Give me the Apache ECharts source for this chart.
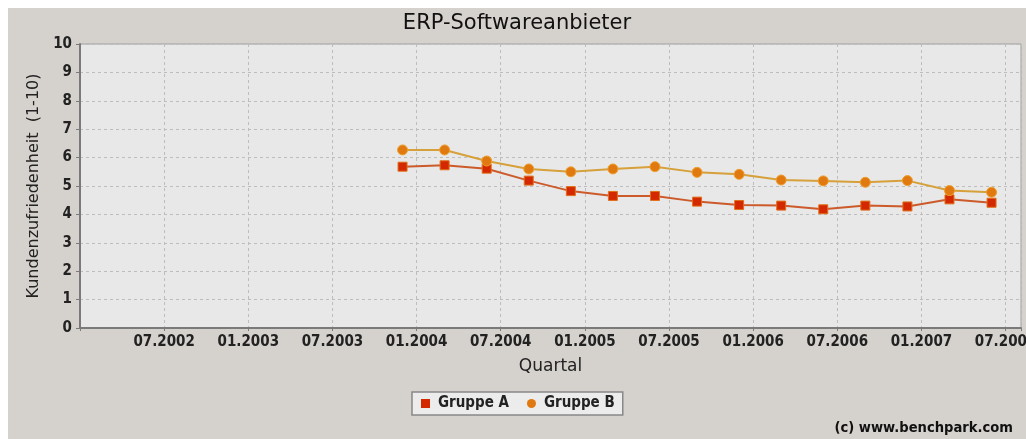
<!DOCTYPE html>
<html>
<head>
<meta charset="utf-8">
<script src="https://cdn.jsdelivr.net/npm/echarts@6/dist/echarts.min.js"></script>
<style>
  html, body { margin: 0; padding: 0; background: #ffffff; }
  #chart { position: absolute; left: 8px; top: 8px; width: 1018px; height: 431px; }
</style>
</head>
<body>
<div id="chart"></div>
<script>
// ---- data ----
const quarters = ['2003-12','2004-03','2004-06','2004-09','2004-12','2005-03','2005-06','2005-09',
                  '2005-12','2006-03','2006-06','2006-09','2006-12','2007-03','2007-06'];
const gruppeA = [5.68, 5.73, 5.61, 5.19, 4.82, 4.65, 4.65, 4.45, 4.33, 4.31, 4.18, 4.31, 4.28, 4.53, 4.41];
const gruppeB = [6.27, 6.27, 5.88, 5.60, 5.50, 5.60, 5.68, 5.48, 5.41, 5.21, 5.18, 5.13, 5.19, 4.84, 4.78];
const seriesNames = ['Gruppe A', 'Gruppe B'];
const yTicks = [0, 1, 2, 3, 4, 5, 6, 7, 8, 9, 10];
// x axis: months counted from 01.2000
const BASE_YEAR = 2000;
const X_MIN = 24;      // 01.2002
const X_MAX = 91.1;    // early 08.2007
const X_STEP = 6;      // half-year ticks

function toMonth(s) {
  const [y, m] = s.split('-').map(Number);
  return (y - BASE_YEAR) * 12 + (m - 1);
}
function fmtMonth(v) {
  if (Math.abs(v % X_STEP) > 1e-6 || v <= X_MIN) return '';
  const y = BASE_YEAR + Math.floor(v / 12);
  const m = Math.round(v % 12) + 1;
  return (m < 10 ? '0' + m : '' + m) + '.' + y;
}

const dataA = quarters.map((q, i) => [toMonth(q), gruppeA[i]]);
const dataB = quarters.map((q, i) => [toMonth(q), gruppeB[i]]);

const chart = echarts.init(document.getElementById('chart'), null, { renderer: 'canvas' });
const tickFont = { fontFamily: 'DejaVu Sans Condensed', fontWeight: 'bold', fontSize: 15, color: '#222' };

chart.setOption({
  backgroundColor: '#d5d1cd',
  animation: false,
  title: {
    text: 'ERP-Softwareanbieter',
    left: 'center',
    top: 0,
    textStyle: { fontFamily: 'DejaVu Sans', fontWeight: 'normal', fontSize: 21, color: '#111' }
  },
  grid: {
    left: 72, top: 36, width: 941, height: 284,
    outerBoundsMode: 'none', containLabel: false,
    show: true, backgroundColor: '#e8e8e8', borderColor: '#a0a0a0', borderWidth: 1
  },
  legend: {
    data: [
      { name: seriesNames[0], icon: 'rect', itemStyle: { color: '#d42800', borderWidth: 0 } },
      { name: seriesNames[1], icon: 'circle', itemStyle: { color: '#e07a10', borderWidth: 0 } }
    ],
    left: 404, top: 384,
    orient: 'horizontal',
    itemWidth: 9, itemHeight: 9, itemGap: 18,
    padding: [4, 8, 4, 9],
    backgroundColor: '#ececec',
    borderColor: '#888888', borderWidth: 1.5, borderRadius: 0,
    textStyle: { fontFamily: 'DejaVu Sans Condensed', fontWeight: 'bold', fontSize: 15, color: '#222', padding: [0, 0, 0, 3] }
  },
  xAxis: {
    type: 'value',
    min: X_MIN, max: X_MAX, interval: X_STEP,
    name: 'Quartal', nameLocation: 'middle', nameGap: 30,
    nameTextStyle: { fontFamily: 'DejaVu Sans', fontSize: 17, color: '#222' },
    axisLine: { show: true, lineStyle: { color: '#7a7a7a', width: 2 } },
    axisTick: { show: true, length: 3, lineStyle: { color: '#7a7a7a' } },
    axisLabel: Object.assign({ margin: 7, formatter: fmtMonth, hideOverlap: false }, tickFont),
    splitLine: { show: true, lineStyle: { color: '#bdbdbd', type: [3, 3], width: 1 } }
  },
  yAxis: {
    type: 'value',
    min: yTicks[0], max: yTicks[yTicks.length - 1], interval: 1,
    name: 'Kundenzufriedenheit  (1-10)', nameLocation: 'middle', nameGap: 38,
    nameTextStyle: { fontFamily: 'DejaVu Sans', fontSize: 16, color: '#222' },
    axisLine: { show: true, lineStyle: { color: '#7a7a7a', width: 2 } },
    axisTick: { show: true, length: 4, lineStyle: { color: '#7a7a7a' } },
    axisLabel: Object.assign({ margin: 8 }, tickFont),
    splitLine: { show: true, lineStyle: { color: '#bdbdbd', type: [3, 3], width: 1 } }
  },
  graphic: [{
    type: 'text', right: 13, top: 413,
    style: { text: '(c) www.benchpark.com', fontFamily: 'DejaVu Sans Condensed', fontWeight: 'bold', fontSize: 14.6, fill: '#111' }
  }],
  series: [
    {
      name: seriesNames[0], type: 'line', data: dataA,
      symbol: 'rect', symbolSize: 9,
      lineStyle: { color: '#cc5a2a', width: 2 },
      itemStyle: { color: '#d42800', borderColor: '#e0701a', borderWidth: 1 }
    },
    {
      name: seriesNames[1], type: 'line', data: dataB,
      symbol: 'circle', symbolSize: 10,
      lineStyle: { color: '#d6a03a', width: 2 },
      itemStyle: { color: '#e07a10', borderColor: '#eea030', borderWidth: 1 }
    }
  ]
});
</script>
</body>
</html>
